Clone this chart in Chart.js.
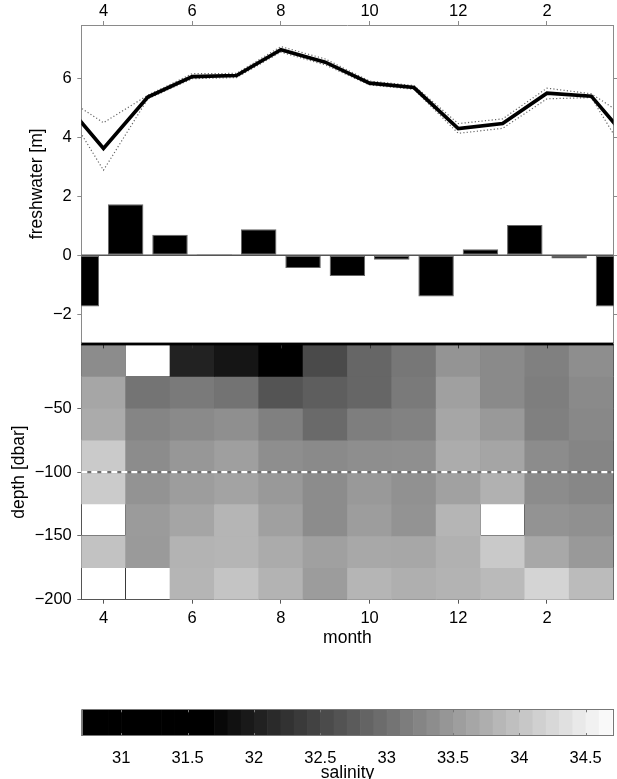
<!DOCTYPE html>
<html><head><meta charset="utf-8">
<script src="https://cdn.jsdelivr.net/npm/chart.js@4.4.1/dist/chart.umd.min.js"></script>
<style>
html,body{margin:0;padding:0;background:#fff;width:617px;height:779px;overflow:hidden;position:relative;}
canvas{position:absolute;left:0;}
</style></head><body>
<canvas id="top" width="617" height="358" style="top:0;width:617px;height:358px"></canvas>
<canvas id="heat" width="617" height="327" style="top:329px;width:617px;height:327px"></canvas>
<canvas id="cbar" width="617" height="100" style="top:695px;width:617px;height:100px"></canvas>
<script>
// ---------- data ----------
const months = [4, 5, 6, 7, 8, 9, 10, 11, 12, 13, 14, 15];
const monthTickValues = [4, 6, 8, 10, 12, 14];
const monthTickLabels = ['4', '6', '8', '10', '12', '2'];

const freshwater = [3.62, 5.36, 6.05, 6.09, 6.96, 6.54, 5.83, 5.68, 4.29, 4.46, 5.49, 5.39];
const freshUpper = [4.49, 5.42, 6.15, 6.16, 7.07, 6.65, 5.90, 5.75, 4.46, 4.62, 5.66, 5.47];
const freshLower = [2.88, 5.30, 5.98, 6.02, 6.88, 6.45, 5.77, 5.62, 4.13, 4.30, 5.30, 5.34];

const changeMonths = [3.5, 4.5, 5.5, 6.5, 7.5, 8.5, 9.5, 10.5, 11.5, 12.5, 13.5, 14.5, 15.5];
const freshChange = [-1.74, 1.73, 0.69, 0.03, 0.88, -0.43, -0.70, -0.15, -1.40, 0.20, 1.02, -0.11, -1.74];
const freshTicks = [-2, 0, 2, 4, 6];

const depthEdges = [0, -25, -50, -75, -100, -125, -150, -175, -200];
const depthTicks = [-200, -150, -100, -50];
const referenceDepth = -100;

// salinity per depth layer (rows, top to bottom), per month (columns); null = no data
const salinityRows = [
  [33.34, null, 32.06, 31.90, 31.55, 32.54, 32.88, 33.08, 33.43, 33.31, 33.19, 33.36],
  [33.65, 33.05, 33.12, 33.03, 32.66, 32.78, 32.88, 33.12, 33.58, 33.31, 33.17, 33.31],
  [33.71, 33.25, 33.31, 33.37, 33.19, 32.93, 33.17, 33.22, 33.65, 33.49, 33.19, 33.29],
  [34.08, 33.34, 33.47, 33.56, 33.36, 33.31, 33.36, 33.37, 33.72, 33.64, 33.34, 33.25],
  [34.09, 33.42, 33.54, 33.61, 33.49, 33.34, 33.49, 33.40, 33.59, 33.78, 33.34, 33.28],
  [null, 33.52, 33.64, 33.83, 33.58, 33.34, 33.54, 33.42, 33.83, null, 33.42, 33.38],
  [33.99, 33.50, 33.81, 33.83, 33.71, 33.58, 33.67, 33.66, 33.78, 34.07, 33.67, 33.49],
  [null, null, 33.83, 34.01, 33.81, 33.53, 33.83, 33.76, 33.81, 33.89, 34.20, 33.90]
];
const salinityTicks = [31, 31.5, 32, 32.5, 33, 33.5, 34, 34.5];
const salinityRange = [30.70, 34.71];

// ---------- style ----------
const FONT = '"Liberation Sans", Arial, Helvetica, sans-serif';
const TICK_FONT = {family: FONT, size: 16.5};
const TITLE_FONT = {family: FONT, size: 17.5};
const colorMin = 31.65, colorMax = 34.72;
function grayFor(s) {
  let t = (s - colorMin) / (colorMax - colorMin);
  t = Math.max(0, Math.min(1, t));
  const g = Math.round(t * 255);
  return `rgb(${g},${g},${g})`;
}
function fmt(v) { return String(v).replace('-', '\u2212'); }
function setTicks(values) { return (s) => { s.ticks = values.map(v => ({value: v})); }; }
function monthLabel(v) { const i = monthTickValues.indexOf(v); return i >= 0 ? monthTickLabels[i] : ''; }

Chart.defaults.font.family = FONT;
Chart.defaults.color = '#000';
Chart.defaults.animation = false;
Chart.defaults.responsive = false;
Chart.defaults.devicePixelRatio = 1;
Chart.defaults.plugins.legend.display = false;
Chart.defaults.plugins.tooltip.enabled = false;

const PLOT_LEFT = 81.3;
const AXIS_TOP = '#8a8a8a';

// periodic wrap points (copies of the first/last month) so the curve runs to the frame edges
const wrapX = [months[0] - 1, ...months, months[months.length - 1] + 1];
const wrap = (a) => [a[a.length - 1], ...a, a[0]];
const pts = (xs, ys) => xs.map((x, i) => ({x, y: ys[i]}));

// ---------- top panel ----------
new Chart(document.getElementById('top'), {
  type: 'bar',
  data: {
    datasets: [
      {type: 'line', data: pts(wrapX, wrap(freshwater)), borderColor: '#000', borderWidth: 3.6,
       pointRadius: 0, tension: 0, order: 0, borderJoinStyle: 'miter'},
      {type: 'line', data: pts(wrapX, wrap(freshUpper)), borderColor: '#666', borderWidth: 1.2,
       borderDash: [1.2, 2.2], pointRadius: 0, order: 1},
      {type: 'line', data: pts(wrapX, wrap(freshLower)), borderColor: '#666', borderWidth: 1.2,
       borderDash: [1.2, 2.2], pointRadius: 0, order: 1},
      {type: 'line', data: [{x: 3.5, y: 0}, {x: 15.5, y: 0}], borderColor: '#555', borderWidth: 1.3,
       pointRadius: 0, order: 2},
      {type: 'bar', data: pts(changeMonths, freshChange), backgroundColor: '#000', borderColor: '#666',
       borderWidth: 1, borderSkipped: false, barPercentage: 0.8, categoryPercentage: 1, order: 3}
    ]
  },
  options: {
    layout: {padding: {left: 0, right: 0, top: 0, bottom: 14.7}},
    scales: {
      x: {type: 'linear', position: 'top', min: 3.5, max: 15.5, offset: false,
          afterBuildTicks: setTicks(monthTickValues),
          afterFit: s => { s.height = 25; },
          ticks: {font: TICK_FONT, padding: 0, maxRotation: 0, autoSkip: false, callback: monthLabel},
          grid: {drawOnChartArea: false, offset: false, tickLength: 4, color: AXIS_TOP},
          border: {color: AXIS_TOP}},
      y: {type: 'linear', position: 'left', min: -2.96, max: 7.8,
          afterBuildTicks: setTicks(freshTicks),
          afterFit: s => { s.width = PLOT_LEFT; },
          ticks: {font: TICK_FONT, padding: 5.5, callback: fmt},
          grid: {drawOnChartArea: false, tickLength: 4, color: AXIS_TOP},
          border: {color: AXIS_TOP},
          title: {display: true, text: 'freshwater [m]', font: TITLE_FONT, padding: {top: 26.5, bottom: 0}}},
      y2: {type: 'linear', position: 'right', min: -2.96, max: 7.8,
          afterBuildTicks: setTicks(freshTicks),
          afterFit: s => { s.width = 3.5; },
          ticks: {display: false},
          grid: {drawOnChartArea: false, tickLength: 4, color: AXIS_TOP},
          border: {color: AXIS_TOP}}
    }
  }
});

// ---------- heat map ----------
const heatSets = salinityRows.map((row, r) => ({
  type: 'bar',
  data: months.map((m, c) => row[c] == null ? null : {x: m, y: [depthEdges[r + 1], depthEdges[r]], s: row[c]})
              .filter(p => p !== null),
  backgroundColor: ctx => ctx.raw ? grayFor(ctx.raw.s) : 'transparent',
  borderWidth: 0, grouped: false, barPercentage: 1, categoryPercentage: 1, order: 5
}));
heatSets.push({type: 'line', data: [{x: 3.5, y: referenceDepth}, {x: 15.5, y: referenceDepth}],
  borderColor: '#6e6e6e', borderWidth: 2.2, pointRadius: 0, order: 1});
heatSets.push({type: 'line', data: [{x: 3.5, y: referenceDepth}, {x: 15.5, y: referenceDepth}],
  borderColor: '#fff', borderWidth: 2.2, borderDash: [6, 4], pointRadius: 0, order: 0});

const heatDecor = {
  id: 'heatDecor',
  afterDraw(chart) {
    const {ctx, chartArea: a, scales} = chart;
    ctx.save();
    ctx.strokeStyle = '#333';
    ctx.lineWidth = 1;
    monthTickValues.forEach(v => {
      const x = Math.round(scales.x.getPixelForValue(v)) + 0.5;
      ctx.beginPath(); ctx.moveTo(x, a.top); ctx.lineTo(x, a.top + 4); ctx.stroke();
    });
    ctx.fillStyle = '#000';
    ctx.fillRect(a.left, a.top - 1.8, a.right - a.left, 2.8);
    ctx.restore();
  }
};

const cellCols = [3.5, ...months.map(m => m + 0.5)];
const cellRows = depthEdges.filter(d => d !== referenceDepth);

new Chart(document.getElementById('heat'), {
  type: 'bar',
  data: {datasets: heatSets},
  plugins: [heatDecor],
  options: {
    layout: {padding: {left: 0, right: 3.5, top: 14.6, bottom: 0}},
    scales: {
      x: {type: 'linear', position: 'bottom', min: 3.5, max: 15.5, offset: false,
          afterBuildTicks: setTicks(monthTickValues),
          afterFit: s => { s.height = 56.3; },
          ticks: {font: TICK_FONT, padding: 5.3, maxRotation: 0, autoSkip: false, callback: monthLabel},
          grid: {drawOnChartArea: false, offset: false, tickLength: 4, color: '#555'},
          border: {color: '#555'},
          title: {display: true, text: 'month', font: TITLE_FONT, padding: {top: 0, bottom: 7.5}}},
      y: {type: 'linear', position: 'left', min: -200, max: 0,
          afterBuildTicks: setTicks(depthTicks),
          afterFit: s => { s.width = PLOT_LEFT; },
          ticks: {font: TICK_FONT, padding: 5.5, callback: fmt},
          grid: {drawOnChartArea: false, tickLength: 4, color: '#666'},
          border: {color: '#555'},
          title: {display: true, text: 'depth [dbar]', font: TITLE_FONT, padding: {top: 8.6, bottom: 0}}},
      xg: {type: 'linear', position: 'bottom', min: 3.5, max: 15.5, z: 1, offset: false,
          afterBuildTicks: setTicks(cellCols),
          afterFit: s => { s.height = 0; },
          ticks: {display: false},
          grid: {drawTicks: false, offset: false, color: '#3a3a3a', lineWidth: 1},
          border: {display: false}},
      yg: {type: 'linear', position: 'left', min: -200, max: 0, z: 1,
          afterBuildTicks: setTicks(cellRows),
          afterFit: s => { s.width = 0; },
          ticks: {display: false},
          grid: {drawTicks: false, color: '#3a3a3a', lineWidth: 1},
          border: {display: false}}
    }
  }
});

// ---------- colour bar ----------
const cbarDraw = {
  id: 'cbarDraw',
  afterDraw(chart) {
    const {ctx, chartArea: a, scales} = chart;
    const xs = scales.x;
    ctx.save();
    for (let k = 0; ; k++) {
      const s0 = salinityRange[0] + k * 0.1;
      if (s0 >= salinityRange[1]) break;
      const s1 = Math.min(s0 + 0.1, salinityRange[1]);
      const x0 = xs.getPixelForValue(s0), x1 = xs.getPixelForValue(s1);
      ctx.fillStyle = grayFor((s0 + s1) / 2);
      ctx.fillRect(x0, a.top, x1 - x0 + 0.6, a.bottom - a.top);
    }
    ctx.strokeStyle = '#777';
    ctx.lineWidth = 1;
    salinityTicks.forEach(v => {
      const x = Math.round(xs.getPixelForValue(v)) + 0.5;
      ctx.beginPath(); ctx.moveTo(x, a.top); ctx.lineTo(x, a.top + 3);
      ctx.moveTo(x, a.bottom); ctx.lineTo(x, a.bottom - 3); ctx.stroke();
    });
    ctx.strokeRect(Math.round(a.left) + 0.5, Math.round(a.top) + 0.5,
                   Math.round(a.right - a.left) - 1, Math.round(a.bottom - a.top) - 1);
    ctx.restore();
  }
};

new Chart(document.getElementById('cbar'), {
  type: 'scatter',
  data: {datasets: []},
  plugins: [cbarDraw],
  options: {
    layout: {padding: {left: 81.5, right: 3.5, top: 14.3, bottom: 0}},
    scales: {
      x: {type: 'linear', position: 'bottom', min: salinityRange[0], max: salinityRange[1],
          afterBuildTicks: setTicks(salinityTicks),
          afterFit: s => { s.height = 59; },
          ticks: {font: TICK_FONT, padding: 5, maxRotation: 0, autoSkip: false, callback: v => String(v)},
          grid: {display: false},
          border: {display: false},
          title: {display: true, text: 'salinity', font: TITLE_FONT, padding: {top: 0, bottom: 11.5}}},
      y: {type: 'linear', display: false, min: 0, max: 1}
    }
  }
});
</script>
</body></html>
